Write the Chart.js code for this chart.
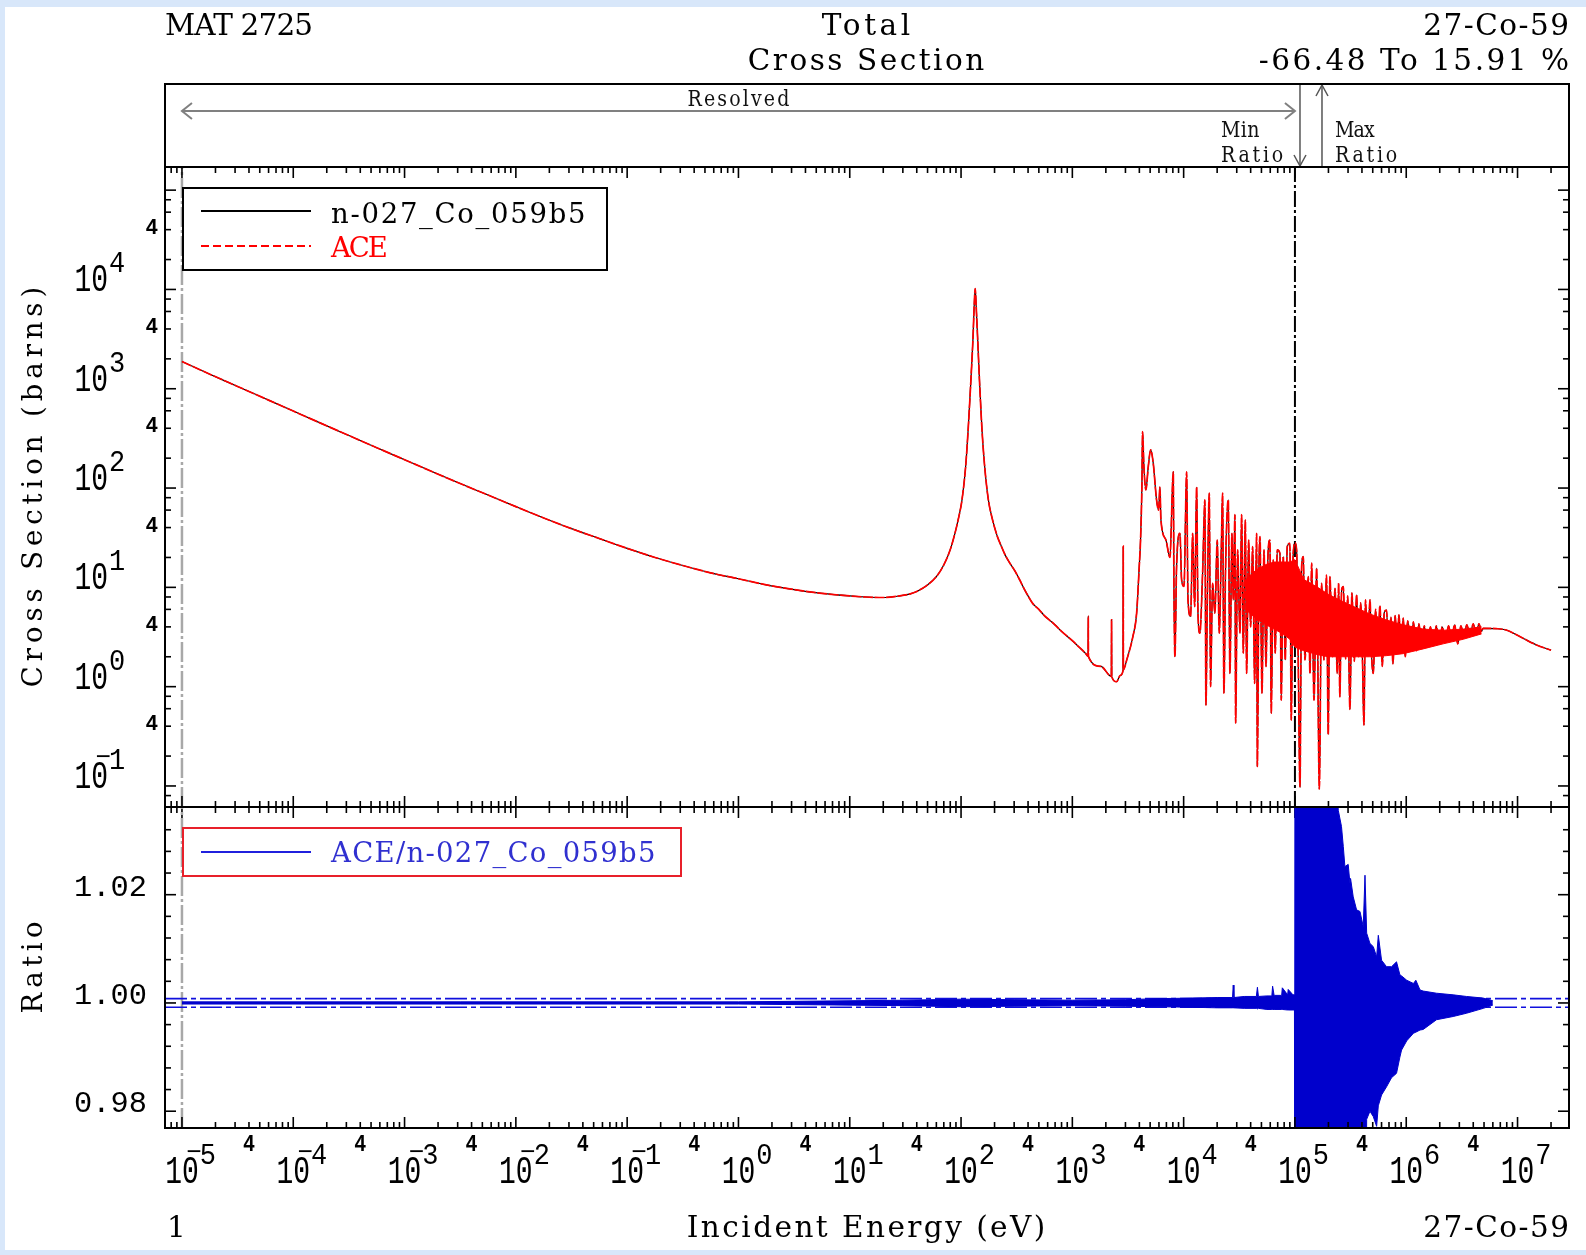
<!DOCTYPE html>
<html>
<head>
<meta charset="utf-8">
<script src="https://cdn.jsdelivr.net/npm/chart.js@4.4.1/dist/chart.umd.min.js"></script>
<style>
  html, body { margin: 0; padding: 0; background: #fff; }
  #page { position: relative; width: 1586px; height: 1255px; background: #d8e7fa; overflow: hidden; }
  #sheet { position: absolute; left: 5px; top: 7px; width: 1581px; height: 1243px; background: #fff; }
  canvas { position: absolute; left: 0; top: 0; }
</style>
</head>
<body>
<div id="page">
  <div id="sheet"></div>
  <canvas id="chart-xs" width="1586" height="1255"></canvas>
  <canvas id="chart-ratio" width="1586" height="1255"></canvas>
</div>
<script>
// axis ranges
const X_MIN = 7.04e-6, X_MAX = 2.9e7;
const Y_MIN = 0.0614, Y_MAX = 1.71e5;
const R_MIN = 0.9769, R_MAX = 1.0362;

// total cross section below 100 keV, energy (eV) / barns
const csEnergy = [
  1e-5, 1.78e-5, 3.16e-5, 5.62e-5, 1e-4, 1.78e-4, 3.16e-4, 5.62e-4, 1e-3, 1.78e-3, 3.16e-3, 5.62e-3, 1e-2, 1.78e-2, 3.16e-2, 5.62e-2, 0.1, 0.178, 0.316, 0.562,
  1, 1.78, 3.16, 5.62, 10, 14, 20, 28, 35, 40, 49, 60, 70.5, 80, 88.7, 95, 102, 110, 116, 122,
  128, 131, 134, 137, 141, 147, 154, 163, 176, 190, 211, 230, 250, 275, 305, 335, 370, 400, 440, 500,
  560, 620, 697, 800, 1000, 1150, 1321, 1385, 1390, 1395, 1800, 2240, 2250, 2260, 2495, 2700, 2855, 2865, 2875, 3080,
  3500, 3780, 3990, 4100, 4220, 4275, 4395, 4580, 4810, 5050, 5330, 5710, 5960, 6120, 6250, 6930, 7530, 8070, 8180, 8350,
  8640, 9260, 9590, 10070, 10640, 10940, 11560, 12050, 12560, 13090, 13450, 14000, 14800, 15530, 15860, 16300, 16990, 17460, 18200, 19100,
  20040, 20900, 21780, 22390, 23010, 23820, 25180, 26060, 27170, 27930, 28910, 29310, 30550, 32060, 33190, 34360, 35810, 36810, 38370, 39990,
  41690, 43450, 45290, 45920, 47530, 48530, 50580, 52720, 54950, 57180, 59590, 61250, 63840, 66540, 69350, 73280, 75330, 78510, 81830, 85290,
  90090, 92610, 96530
];
const csBarns = [
  1880, 1400, 1055, 793, 596, 448, 338, 255, 193, 146, 111, 85, 65, 50, 39, 31, 24.7, 20, 16.6, 14,
  12.2, 10.6, 9.5, 8.7, 8.2, 8.0, 7.9, 8.2, 8.6, 9.1, 10.4, 12.8, 17.1, 24, 36, 50, 76, 165, 398, 1100,
  3200, 6500, 10200, 6500, 3200, 1100, 398, 165, 76, 50, 33, 26, 21, 17.5, 14.6, 12, 9.6, 8.2, 6.9, 6.0,
  5.2, 4.7, 4.2, 3.6, 2.9, 2.5, 2.15, 2.02, 5.1, 2.01, 1.6, 1.27, 4.7, 1.26, 1.12, 1.3, 1.46, 26, 1.48, 1.86,
  3.2, 5.5, 16.2, 30, 112, 370, 164, 96, 164, 242, 178, 76, 60, 102, 48, 30, 20, 146, 10.2, 2.0,
  16.2, 35, 11.9, 10.2, 146, 7.5, 5.1, 35, 6.4, 102, 5.5, 3.45, 13.9, 76, 0.65, 6.4, 89, 1.0, 11, 5.5,
  30, 3.45, 23.8, 89, 0.86, 16.2, 76, 1.36, 35, 7.5, 54, 0.43, 23.8, 3.45, 54, 2.17, 47.7, 1.36, 30, 4.0,
  25.7, 1.08, 35, 0.157, 16.2, 32.4, 0.86, 23.8, 1.59, 20.4, 30, 0.54, 18.9, 2.17, 23.8, 22, 0.73, 20.4, 1.86, 25.7,
  27.8, 0.46, 22
];

// total cross section above 100 keV
const fastEnergy = [
  1.005e5, 1.035e5, 1.07e5, 1.11e5, 1.148e5, 1.19e5, 1.23e5, 1.318e5, 1.365e5, 1.413e5, 1.483e5, 1.567e5, 1.656e5, 1.738e5, 1.82e5, 1.923e5, 1.99e5, 2.06e5, 2.18e5, 2.29e5,
  2.40e5, 2.47e5, 2.53e5, 2.63e5, 2.72e5, 2.85e5, 2.98e5, 3.12e5, 3.25e5, 3.42e5, 3.58e5, 3.74e5, 3.9e5, 4.05e5, 4.17e5, 4.3e5, 4.5e5, 4.72e5, 4.9e5, 5.06e5,
  5.3e5, 5.55e5, 5.8e5, 6.1e5, 6.35e5, 6.65e5, 6.95e5, 7.3e5, 7.6e5, 7.95e5, 8.3e5, 8.6e5, 9.0e5, 9.4e5, 9.8e5, 1.03e6, 1.1e6, 1.16e6, 1.23e6, 1.3e6,
  1.38e6, 1.45e6, 1.55e6, 1.65e6, 1.75e6, 1.86e6, 1.98e6, 2.1e6, 2.25e6, 2.4e6, 2.55e6, 2.72e6, 2.9e6, 3.1e6, 3.3e6, 3.5e6, 3.75e6, 4.0e6, 4.25e6, 4.5e6,
  4.75e6, 4.9e6, 6.45e6, 7.9e6, 1.12e7, 1.48e7, 2.0e7
];
const fastBarns = [
  28, 23.8, 2.0, 0.098, 16.2, 20.4, 1.86, 12.8, 1.36, 17.5, 0.73, 15.6, 0.093, 11, 1.86, 13.3, 0.33, 12.8, 2.0, 9.8,
  1.36, 11, 0.79, 9.5, 10.2, 1.9, 8.2, 0.59, 8.8, 1.8, 8.4, 2.0, 7.0, 1.7, 0.41, 7.5, 2.2, 7.5, 1.9, 1.36,
  6.0, 2.1, 6.5, 1.6, 5.6, 5.9, 2.2, 5.0, 1.7, 5.2, 2.4, 5.3, 2.3, 4.9, 2.0, 4.6, 2.5, 4.5, 2.3, 4.3,
  2.6, 4.1, 2.5, 4.0, 2.6, 4.1, 2.7, 4.0, 2.9, 4.1, 3.0, 4.2, 2.7, 4.1, 3.2, 4.2, 3.3, 4.3, 3.4, 4.3,
  3.6, 3.87, 3.84, 3.72, 3.07, 2.63, 2.33
];

// densely fluctuating region, upper and lower edge of the filled red band
const bandEnergy = [36000, 45000, 55000, 65000, 78000, 90000, 1.0e5, 1.2e5, 1.6e5, 2.0e5, 2.7e5, 3.6e5, 4.7e5, 6.6e5, 9.4e5, 1.42e6, 2.15e6, 3.25e6, 4.75e6];
const bandHigh   = [12, 15, 17, 18, 18, 18, 19, 12, 10, 8.5, 7.2, 6.2, 5.4, 4.7, 4.2, 3.8, 3.7, 3.8, 4.0];
const bandLow    = [6, 4.8, 4.2, 3.8, 3.4, 3.0, 2.5, 2.3, 2.1, 2.0, 2.0, 2.0, 2.0, 2.05, 2.15, 2.4, 2.7, 3.0, 3.4];

// ratio ACE / n-027_Co_059b5, upper and lower edge of the scatter
const ratioEnergy = [
  1e-5, 1, 30, 100, 300, 1000, 3000, 6000, 12000, 20000, 27500, 27900, 28300, 35000, 45000, 46000, 47000, 56000, 62000, 63000,
  65000, 76000, 77000, 86000, 87000, 96000, 99000,
  1.0e5, 2.13e5, 2.21e5, 2.45e5, 2.62e5, 2.72e5, 2.81e5, 3.01e5, 3.12e5, 3.16e5, 3.34e5, 3.58e5, 3.84e5, 4.11e5, 4.26e5, 4.41e5, 4.72e5, 5.06e5, 5.42e5, 5.61e5,
  6.0e5, 6.65e5, 7.38e5, 8.18e5, 8.77e5, 9.08e5, 1.01e6, 1.16e6, 1.22e6, 1.33e6, 1.42e6, 1.87e6, 2.64e6, 3.48e6, 4.92e6, 6.0e6
];
const ratioHigh = [
  1.0002, 1.0002, 1.0005, 1.0007, 1.0006, 1.0005, 1.0006, 1.0008, 1.0009, 1.0010, 1.0010, 1.0033, 1.0010, 1.0012, 1.0012, 1.0029, 1.0012, 1.0013, 1.0013, 1.0031,
  1.0014, 1.0014, 1.0028, 1.0015, 1.0025, 1.0015, 1.0015,
  1.06, 1.06, 1.06, 1.0356, 1.0326, 1.0289, 1.0252, 1.0256, 1.0221, 1.0230, 1.0196, 1.0172, 1.0169, 1.0141, 1.0236, 1.0129, 1.0110, 1.0104, 1.0085, 1.0125,
  1.0079, 1.0067, 1.0067, 1.0076, 1.0052, 1.0050, 1.0042, 1.0036, 1.0042, 1.0024, 1.0022, 1.0018, 1.0015, 1.0012, 1.0009, 1.0004
];
const ratioLow = [
  0.9998, 0.9998, 0.9995, 0.9993, 0.9994, 0.9995, 0.9994, 0.9993, 0.9992, 0.9991, 0.9991, 0.9991, 0.9991, 0.9990, 0.9990, 0.9989, 0.9990, 0.9988, 0.9988, 0.9988,
  0.9988, 0.9988, 0.9988, 0.9987, 0.9987, 0.9987, 0.9987,
  0.94, 0.94, 0.94, 0.94, 0.94, 0.94, 0.94, 0.94, 0.94, 0.94, 0.94, 0.94, 0.94, 0.94, 0.94, 0.9785, 0.9800, 0.9790, 0.9772, 0.9810,
  0.9830, 0.9845, 0.9862, 0.9870, 0.9900, 0.9913, 0.9930, 0.9944, 0.9946, 0.9950, 0.9951, 0.9969, 0.9975, 0.9981, 0.9990, 0.9996
];
const ratioBand = [1.0008, 0.9992];

// ticks and labels
const xDecades = [-5, -4, -3, -2, -1, 0, 1, 2, 3, 4, 5, 6, 7];
const xFourLabels = [-5, -4, -3, -2, -1, 0, 1, 2, 3, 4, 5, 6];
const xMinorSteps = [2, 3, 4, 5, 6, 7, 8, 9];
const yDecades = [-1, 0, 1, 2, 3, 4];
const yMinorSteps = [2, 4, 6, 8];
const ratioTicks = [0.98, 0.984, 0.988, 0.992, 0.996, 1.0, 1.004, 1.008, 1.012, 1.016, 1.02, 1.024, 1.028, 1.032];
const ratioLabels = [0.98, 1.0, 1.02];
const resolvedRange = [1e-5, 1e5];
const minRatioE = 1.11e5, maxRatioE = 1.75e5;

const MONO = '"Liberation Mono", "DejaVu Sans Mono", monospace';
const SERIF = '"DejaVu Serif", "Liberation Serif", serif';
const RED = '#ff0000', BLUE = '#0000cc', GREY = '#a8a8a8';
const HEAD = { size: 29.5, pitch: 18.4, serif: true };

// text drawn at a fixed character pitch, like the typewriter face of the original
function text(ctx, s, x, y, o = {}) {
  const { size = 30, bold = false, color = '#000', align = 'left', stretch = 1, rotate = 0, pitch = 0, serif = false } = o;
  ctx.save();
  ctx.translate(x, y);
  if (rotate) ctx.rotate(rotate);
  ctx.scale(1, stretch);
  ctx.font = `${bold ? 'bold ' : ''}${size}px ${serif ? SERIF : MONO}`;
  ctx.fillStyle = color;
  ctx.textAlign = align;
  ctx.textBaseline = 'alphabetic';
  if (pitch) {
    const w = ctx.measureText(s).width;
    const ls = (s.length * pitch - w) / s.length;
    ctx.letterSpacing = `${ls.toFixed(2)}px`;
    if (align === 'center') ctx.translate(ls / 2, 0);
    if (align === 'right') ctx.translate(ls, 0);
  }
  ctx.fillText(s, 0, 0);
  ctx.restore();
}

function line(ctx, x1, y1, x2, y2) {
  ctx.beginPath(); ctx.moveTo(x1, y1); ctx.lineTo(x2, y2); ctx.stroke();
}

// "10" with a raised exponent; anchor centre or right edge of the "10"
function power(ctx, exp, x, y, centred) {
  ctx.save();
  ctx.font = `28px ${MONO}`;
  const w = ctx.measureText('10').width;
  ctx.restore();
  const right = centred ? x + w / 2 : x;
  text(ctx, '10', right, y, { size: 28, align: 'right', stretch: 1.4 });
  text(ctx, String(Math.abs(exp)), right + 1, y - 19, { size: 27, stretch: 1.12 });
  if (exp < 0) text(ctx, '\u2212', right + 3, y - 23, { size: 26, align: 'right' });
}

function logTicks(min, max, steps) {
  const out = [];
  for (let d = Math.floor(Math.log10(min)); d <= Math.ceil(Math.log10(max)); d++) {
    [1, ...steps].forEach(m => {
      const v = m * Math.pow(10, d);
      if (v >= min && v <= max) out.push({ v, major: m === 1 });
    });
  }
  return out;
}

function xTicks(ctx, X, y, up, down) {
  logTicks(X_MIN, X_MAX, xMinorSteps).forEach(t => {
    const len = t.major ? 11 : 6;
    const px = X(t.v);
    line(ctx, px, y - up * len, px, y + down * len);
  });
}

function arrowHead(ctx, x, y, dx, dy) {
  // open chevron pointing towards (x, y)
  ctx.beginPath();
  if (dx) { ctx.moveTo(x - dx * 10, y - 8); ctx.lineTo(x, y); ctx.lineTo(x - dx * 10, y + 8); }
  else { ctx.moveTo(x - 6, y - dy * 11); ctx.lineTo(x, y); ctx.lineTo(x + 6, y - dy * 11); }
  ctx.stroke();
}

const pts = (xs, ys) => xs.map((x, i) => ({ x, y: ys[i] }));

const xsDecor = {
  id: 'xs-decor',
  afterDraw(chart) {
    const { ctx, chartArea: a, scales } = chart;
    const X = v => scales.x.getPixelForValue(v);
    const Y = v => scales.y.getPixelForValue(v);
    ctx.save();

    text(ctx, 'MAT 2725', a.left, 35, HEAD);
    text(ctx, 'Total', 866, 35, { ...HEAD, align: 'center' });
    text(ctx, 'Cross Section', 866, 70, { ...HEAD, align: 'center' });
    text(ctx, '27-Co-59', a.right, 35, { ...HEAD, align: 'right' });
    text(ctx, '-66.48 To 15.91 %', a.right, 70, { ...HEAD, align: 'right' });

    // header strip with energy ranges
    ctx.strokeStyle = '#808080'; ctx.lineWidth = 2;
    const r0 = X(resolvedRange[0]), r1 = X(resolvedRange[1]);
    line(ctx, r0, 111, r1, 111);
    arrowHead(ctx, r0, 111, -1, 0);
    arrowHead(ctx, r1, 111, 1, 0);
    const small = { size: 19, pitch: 13, serif: true, stretch: 1.15, color: '#111' };
    text(ctx, 'Resolved', (r0 + r1) / 2, 106, { ...small, align: 'center' });

    ctx.strokeStyle = '#555'; ctx.lineWidth = 1.5;
    const mn = X(minRatioE), mx = X(maxRatioE);
    line(ctx, mn, 84, mn, a.top); arrowHead(ctx, mn, a.top - 1, 0, 1);
    line(ctx, mx, 84, mx, a.top); arrowHead(ctx, mx, 85, 0, -1);
    text(ctx, 'Min', mn - 79, 137, small);
    text(ctx, 'Ratio', mn - 79, 162, small);
    text(ctx, 'Max', mx + 13, 137, small);
    text(ctx, 'Ratio', mx + 13, 162, small);

    // frame
    ctx.strokeStyle = '#000'; ctx.lineWidth = 2;
    ctx.strokeRect(a.left, 84, a.right - a.left, a.bottom - 84);
    line(ctx, a.left, a.top, a.right, a.top);

    // ticks
    ctx.lineWidth = 1.6;
    xTicks(ctx, X, a.top, 0, 1);
    xTicks(ctx, X, a.bottom, 1, 1);
    logTicks(Y_MIN, Y_MAX, yMinorSteps).forEach(t => {
      const len = t.major ? 11 : 6;
      const py = Y(t.v);
      line(ctx, a.left, py, a.left + len, py);
      line(ctx, a.right - len, py, a.right, py);
    });

    yDecades.forEach(d => power(ctx, d, 108, Y(Math.pow(10, d)) + 2, false));
    yDecades.forEach(d => text(ctx, '4', 158, Y(4 * Math.pow(10, d)) + 4, { size: 21, bold: true, align: 'right', stretch: 1.05 }));

    text(ctx, 'Cross Section (barns)', 42, (a.top + a.bottom) / 2, { size: 27.5, pitch: 19.3, serif: true, align: 'center', rotate: -Math.PI / 2 });

    // legend
    ctx.fillStyle = '#fff';
    ctx.fillRect(183, 188, 424, 82);
    ctx.strokeStyle = '#000'; ctx.lineWidth = 2;
    ctx.strokeRect(183, 188, 424, 82);
    line(ctx, 201, 211, 311, 211);
    ctx.strokeStyle = RED; ctx.setLineDash([8, 4]);
    line(ctx, 201, 246, 311, 246);
    ctx.setLineDash([]);
    text(ctx, 'n-027_Co_059b5', 331, 223, { size: 27.5, pitch: 18.3, serif: true });
    text(ctx, 'ACE', 331, 257, { size: 27.5, pitch: 18.3, serif: true, color: RED });
    ctx.restore();
  },
};

const ratioDecor = {
  id: 'ratio-decor',
  afterDraw(chart) {
    const { ctx, chartArea: a, scales } = chart;
    const X = v => scales.x.getPixelForValue(v);
    const Y = v => scales.y.getPixelForValue(v);
    ctx.save();
    ctx.strokeStyle = '#000'; ctx.lineWidth = 2;
    ctx.strokeRect(a.left, a.top, a.right - a.left, a.bottom - a.top);

    ctx.lineWidth = 1.6;
    xTicks(ctx, X, a.bottom, 1, 0);
    ratioTicks.forEach(v => {
      const len = ratioLabels.some(l => Math.abs(l - v) < 1e-9) ? 11 : 6;
      const py = Y(v);
      line(ctx, a.left, py, a.left + len, py);
      line(ctx, a.right - len, py, a.right, py);
    });
    ratioLabels.forEach(v => text(ctx, v.toFixed(2), 147, Y(v) + 1, { size: 30.4, align: 'right', stretch: 0.98 }));
    text(ctx, 'Ratio', 42, (a.top + a.bottom) / 2, { size: 27.5, pitch: 19.3, serif: true, align: 'center', rotate: -Math.PI / 2 });

    xDecades.forEach(d => power(ctx, d, X(Math.pow(10, d)), 1183, true));
    xFourLabels.forEach(d => text(ctx, '4', X(4 * Math.pow(10, d)), 1151, { size: 20, bold: true, align: 'center', stretch: 1.15 }));

    text(ctx, '1', a.left + 2, 1237, HEAD);
    text(ctx, 'Incident Energy (eV)', 866, 1237, { ...HEAD, pitch: 18.05, align: 'center' });
    text(ctx, '27-Co-59', a.right, 1237, { ...HEAD, align: 'right' });

    // legend
    ctx.fillStyle = '#fff';
    ctx.fillRect(183, 828, 498, 48);
    ctx.strokeStyle = '#e8202a'; ctx.lineWidth = 2;
    ctx.strokeRect(183, 828, 498, 48);
    ctx.strokeStyle = '#2020dd';
    line(ctx, 201, 852, 311, 852);
    text(ctx, 'ACE/n-027_Co_059b5', 331, 862, { size: 27.5, pitch: 18.1, serif: true, color: '#3030d0' });
    ctx.restore();
  },
};

const common = {
  responsive: false,
  animation: false,
  events: [],
  elements: { point: { radius: 0 }, line: { tension: 0 } },
  plugins: { legend: { display: false }, tooltip: { enabled: false }, title: { display: false } },
};
const xAxis = { type: 'logarithmic', min: X_MIN, max: X_MAX, display: false };
const xsPoints = pts(csEnergy.concat(fastEnergy), csBarns.concat(fastBarns));

// draw order: red ACE on top, then the red band, then the black evaluation underneath
new Chart(document.getElementById('chart-xs'), {
  type: 'line',
  data: {
    datasets: [
      { data: xsPoints, borderColor: RED, borderWidth: 1.7, borderDash: [10, 1.5], cubicInterpolationMode: 'monotone', order: 1 },
      { data: pts(bandEnergy, bandHigh), borderColor: RED, borderWidth: 1, order: 2 },
      { data: pts(bandEnergy, bandLow), borderColor: RED, borderWidth: 1, fill: '-1', backgroundColor: RED, order: 2 },
      { data: xsPoints, borderColor: '#000', borderWidth: 1.2, cubicInterpolationMode: 'monotone', order: 3 },
      { data: [{ x: resolvedRange[1], y: Y_MIN }, { x: resolvedRange[1], y: Y_MAX }], borderColor: '#000', borderWidth: 2, borderDash: [16, 3, 3, 3], order: 4 },
      { data: [{ x: resolvedRange[0], y: Y_MIN }, { x: resolvedRange[0], y: Y_MAX }], borderColor: GREY, borderWidth: 2.5, borderDash: [20, 3, 3, 3], order: 5 },
    ],
  },
  options: {
    ...common,
    layout: { padding: { left: 165, right: 17, top: 167, bottom: 448 } },
    scales: { x: xAxis, y: { type: 'logarithmic', min: Y_MIN, max: Y_MAX, display: false } },
  },
  plugins: [xsDecor],
});

new Chart(document.getElementById('chart-ratio'), {
  type: 'line',
  data: {
    datasets: [
      { data: pts(ratioEnergy, ratioHigh), borderColor: BLUE, borderWidth: 1, order: 1 },
      { data: pts(ratioEnergy, ratioLow), borderColor: BLUE, borderWidth: 1, fill: '-1', backgroundColor: BLUE, order: 1 },
      { data: [{ x: X_MIN, y: ratioBand[0] }, { x: X_MAX, y: ratioBand[0] }], borderColor: '#1010dd', borderWidth: 1.6, borderDash: [22, 4, 5, 4], order: 3 },
      { data: [{ x: X_MIN, y: ratioBand[1] }, { x: X_MAX, y: ratioBand[1] }], borderColor: '#1010dd', borderWidth: 1.6, borderDash: [22, 4, 5, 4], order: 3 },
      { data: [{ x: resolvedRange[0], y: R_MIN }, { x: resolvedRange[0], y: R_MAX }], borderColor: GREY, borderWidth: 2.5, borderDash: [20, 3, 3, 3], order: 5 },
    ],
  },
  options: {
    ...common,
    layout: { padding: { left: 165, right: 17, top: 807, bottom: 127 } },
    scales: { x: xAxis, y: { type: 'linear', min: R_MIN, max: R_MAX, display: false } },
  },
  plugins: [ratioDecor],
});
</script>
</body>
</html>
